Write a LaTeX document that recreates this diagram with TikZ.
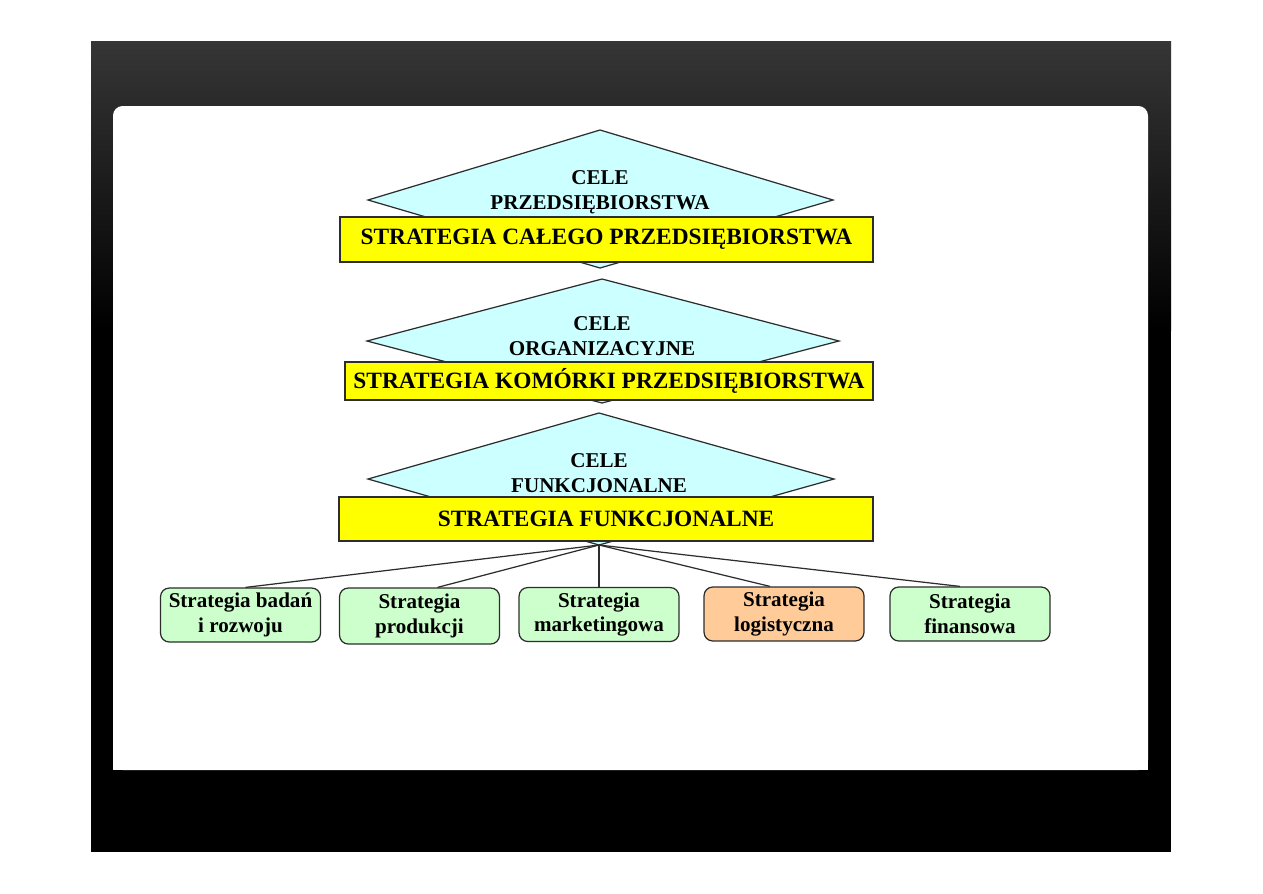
\documentclass[tikz,border=0pt]{standalone}
\usepackage{fontspec}
\setmainfont{Liberation Serif}
\usepackage{xcolor}
\usetikzlibrary{calc}

\definecolor{slidegray}{RGB}{54,54,54}
\definecolor{celecyan}{RGB}{204,255,255}
\definecolor{stratyellow}{RGB}{255,255,0}
\definecolor{boxgreen}{RGB}{204,255,204}
\definecolor{boxorange}{RGB}{255,204,153}
\definecolor{edgegray}{RGB}{45,45,45}

\begin{document}
\begin{tikzpicture}[x=0.02cm, y=-0.02cm,
  cele/.style={draw=edgegray, line width=0.7pt, fill=celecyan},
  celetext/.style={align=center, font=\bfseries\fontsize{12}{14.2}\selectfont},
  strat/.style={draw=edgegray, line width=0.7pt, fill=stratyellow, inner sep=0pt,
    font=\bfseries\fontsize{13.3}{15}\selectfont},
  leaf/.style={draw=edgegray, line width=0.7pt, fill=boxgreen, rounded corners=5pt,
    minimum width=3.2cm, minimum height=1.08cm, inner sep=0pt, align=center,
    font=\bfseries\fontsize{12}{14.2}\selectfont},
  link/.style={draw=edgegray, line width=0.7pt}]
  \useasboundingbox (0,0) rectangle (1263,893);
  \fill[white] (0,0) rectangle (1263,893);
  % slide
  \fill[black] (91,41) rectangle (1171,852);
  \shade[top color=slidegray, bottom color=black] (91,41) rectangle (1171,330);
  \fill[white, rounded corners=5.5pt] (113,106) rectangle (1148,770);
  \fill[white] (113,200) rectangle (1148,770);

  % level 1
  \coordinate (d1t) at (600,130);
  \coordinate (d1l) at (368,200);
  \coordinate (d1r) at (833,200);
  \coordinate (d1b) at (600,268);
  \draw[cele] (d1t) -- (d1r) -- (d1b) -- (d1l) -- cycle;
  \node[celetext] (cele1) at (600,192) {CELE\\PRZEDSIĘBIORSTWA};
  \node[strat, minimum width=10.66cm, minimum height=0.9cm] (strat1) at (606.5,239.5)
    {STRATEGIA CAŁEGO PRZEDSIĘBIORSTWA};

  % level 2
  \coordinate (d2t) at (602,279);
  \coordinate (d2l) at (367,341);
  \coordinate (d2r) at (839,341);
  \coordinate (d2b) at (602,403);
  \draw[cele] (d2t) -- (d2r) -- (d2b) -- (d2l) -- cycle;
  \node[celetext] (cele2) at (602,336) {CELE\\ORGANIZACYJNE};
  \node[strat, minimum width=10.56cm, minimum height=0.76cm] (strat2) at (609,381)
    {STRATEGIA KOMÓRKI PRZEDSIĘBIORSTWA};

  % level 3
  \coordinate (d3t) at (599,413);
  \coordinate (d3l) at (368,479);
  \coordinate (d3r) at (834,479);
  \coordinate (d3b) at (599,545);
  \draw[cele] (d3t) -- (d3r) -- (d3b) -- (d3l) -- cycle;
  \node[celetext] (cele3) at (599,473) {CELE\\FUNKCJONALNE};
  \node[strat, minimum width=10.68cm, minimum height=0.88cm] (strat3) at (606,519)
    {STRATEGIA FUNKCJONALNE};

  % functional strategies
  \node[leaf] (badan) at (240.5,615) {Strategia badań\\i rozwoju};
  \node[leaf, minimum height=1.12cm] (prod) at (419.5,616) {Strategia\\produkcji};
  \node[leaf] (mark) at (599,614.5) {Strategia\\marketingowa};
  \node[leaf, fill=boxorange] (logi) at (784,614) {Strategia\\logistyczna};
  \node[leaf] (fin) at (970,614) {Strategia\\finansowa};

  \draw[link] (d3b) -- ([xshift=0.1cm]badan.north);
  \draw[link] (d3b) -- ([xshift=0.36cm]prod.north);
  \draw[link] (d3b) -- (mark.north);
  \draw[link] (d3b) -- ([xshift=-0.28cm]logi.north);
  \draw[link] (d3b) -- ([xshift=-0.2cm]fin.north);
\end{tikzpicture}
\end{document}
